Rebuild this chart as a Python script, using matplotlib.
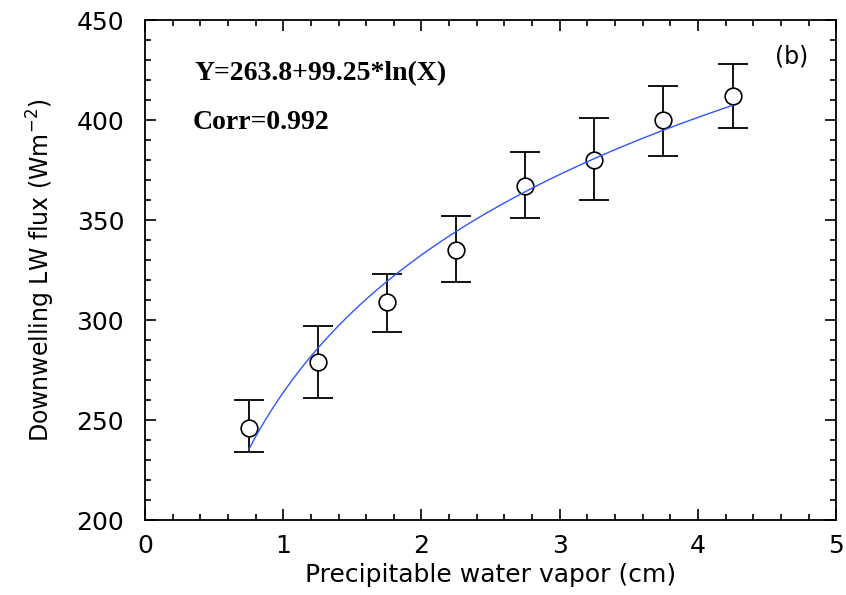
import numpy as np
import matplotlib.pyplot as plt
from matplotlib.ticker import MultipleLocator

# data
pwv = [0.75, 1.25, 1.75, 2.25, 2.75, 3.25, 3.75, 4.25]
flux = [246, 279, 309, 335, 367, 380, 400, 412]
err_low = [234, 261, 294, 319, 351, 360, 382, 396]
err_high = [260, 297, 323, 352, 384, 401, 417, 428]

# regression given on the chart
fit_a = 263.8
fit_b = 99.25

yerr = [np.array(flux) - np.array(err_low), np.array(err_high) - np.array(flux)]

plt.rcParams['font.family'] = ['DejaVu Sans']

fig = plt.figure(figsize=(8.46, 5.95), dpi=100)
ax = fig.add_axes([0.1714, 0.126, 0.817, 0.840])

ax.errorbar(pwv, flux, yerr=yerr, fmt='none', ecolor='black', elinewidth=1.3,
            capsize=11, capthick=1.3, zorder=2)
ax.plot(pwv, flux, 'o', mfc='white', mec='black', ms=12, mew=1.2, zorder=3)

xf = np.linspace(pwv[0], pwv[-1], 100)
ax.plot(xf, fit_a + fit_b * np.log(xf), color='#2f55ff', lw=1.0, zorder=4)

ax.set_xlim(0, 5)
ax.set_ylim(200, 450)
ax.xaxis.set_major_locator(MultipleLocator(1))
ax.xaxis.set_minor_locator(MultipleLocator(0.2))
ax.yaxis.set_major_locator(MultipleLocator(50))
ax.yaxis.set_minor_locator(MultipleLocator(10))
ax.tick_params(which='both', direction='in', top=True, right=True, width=1.2)
ax.tick_params(which='major', length=8, labelsize=18)
ax.tick_params(axis='y', which='major', pad=15)
ax.tick_params(axis='x', which='major', pad=10)
ax.tick_params(which='minor', length=4)
for s in ax.spines.values():
    s.set_linewidth(1.3)

ax.set_xlabel('Precipitable water vapor (cm)', fontsize=18, labelpad=4)
ax.set_ylabel('Downwelling LW flux (Wm$^{-2}$)', fontsize=17, labelpad=14)

ax.text(0.072, 0.894, 'Y=263.8+99.25*ln(X)', transform=ax.transAxes,
        family='Liberation Serif', weight='bold', fontsize=20, va='center')
ax.text(0.069, 0.796, 'Corr=0.992', transform=ax.transAxes,
        family='Liberation Serif', weight='bold', fontsize=20, va='center')
ax.text(0.936, 0.928, '(b)', transform=ax.transAxes, fontsize=17,
        ha='center', va='center')

plt.savefig('out.png', dpi=100)
